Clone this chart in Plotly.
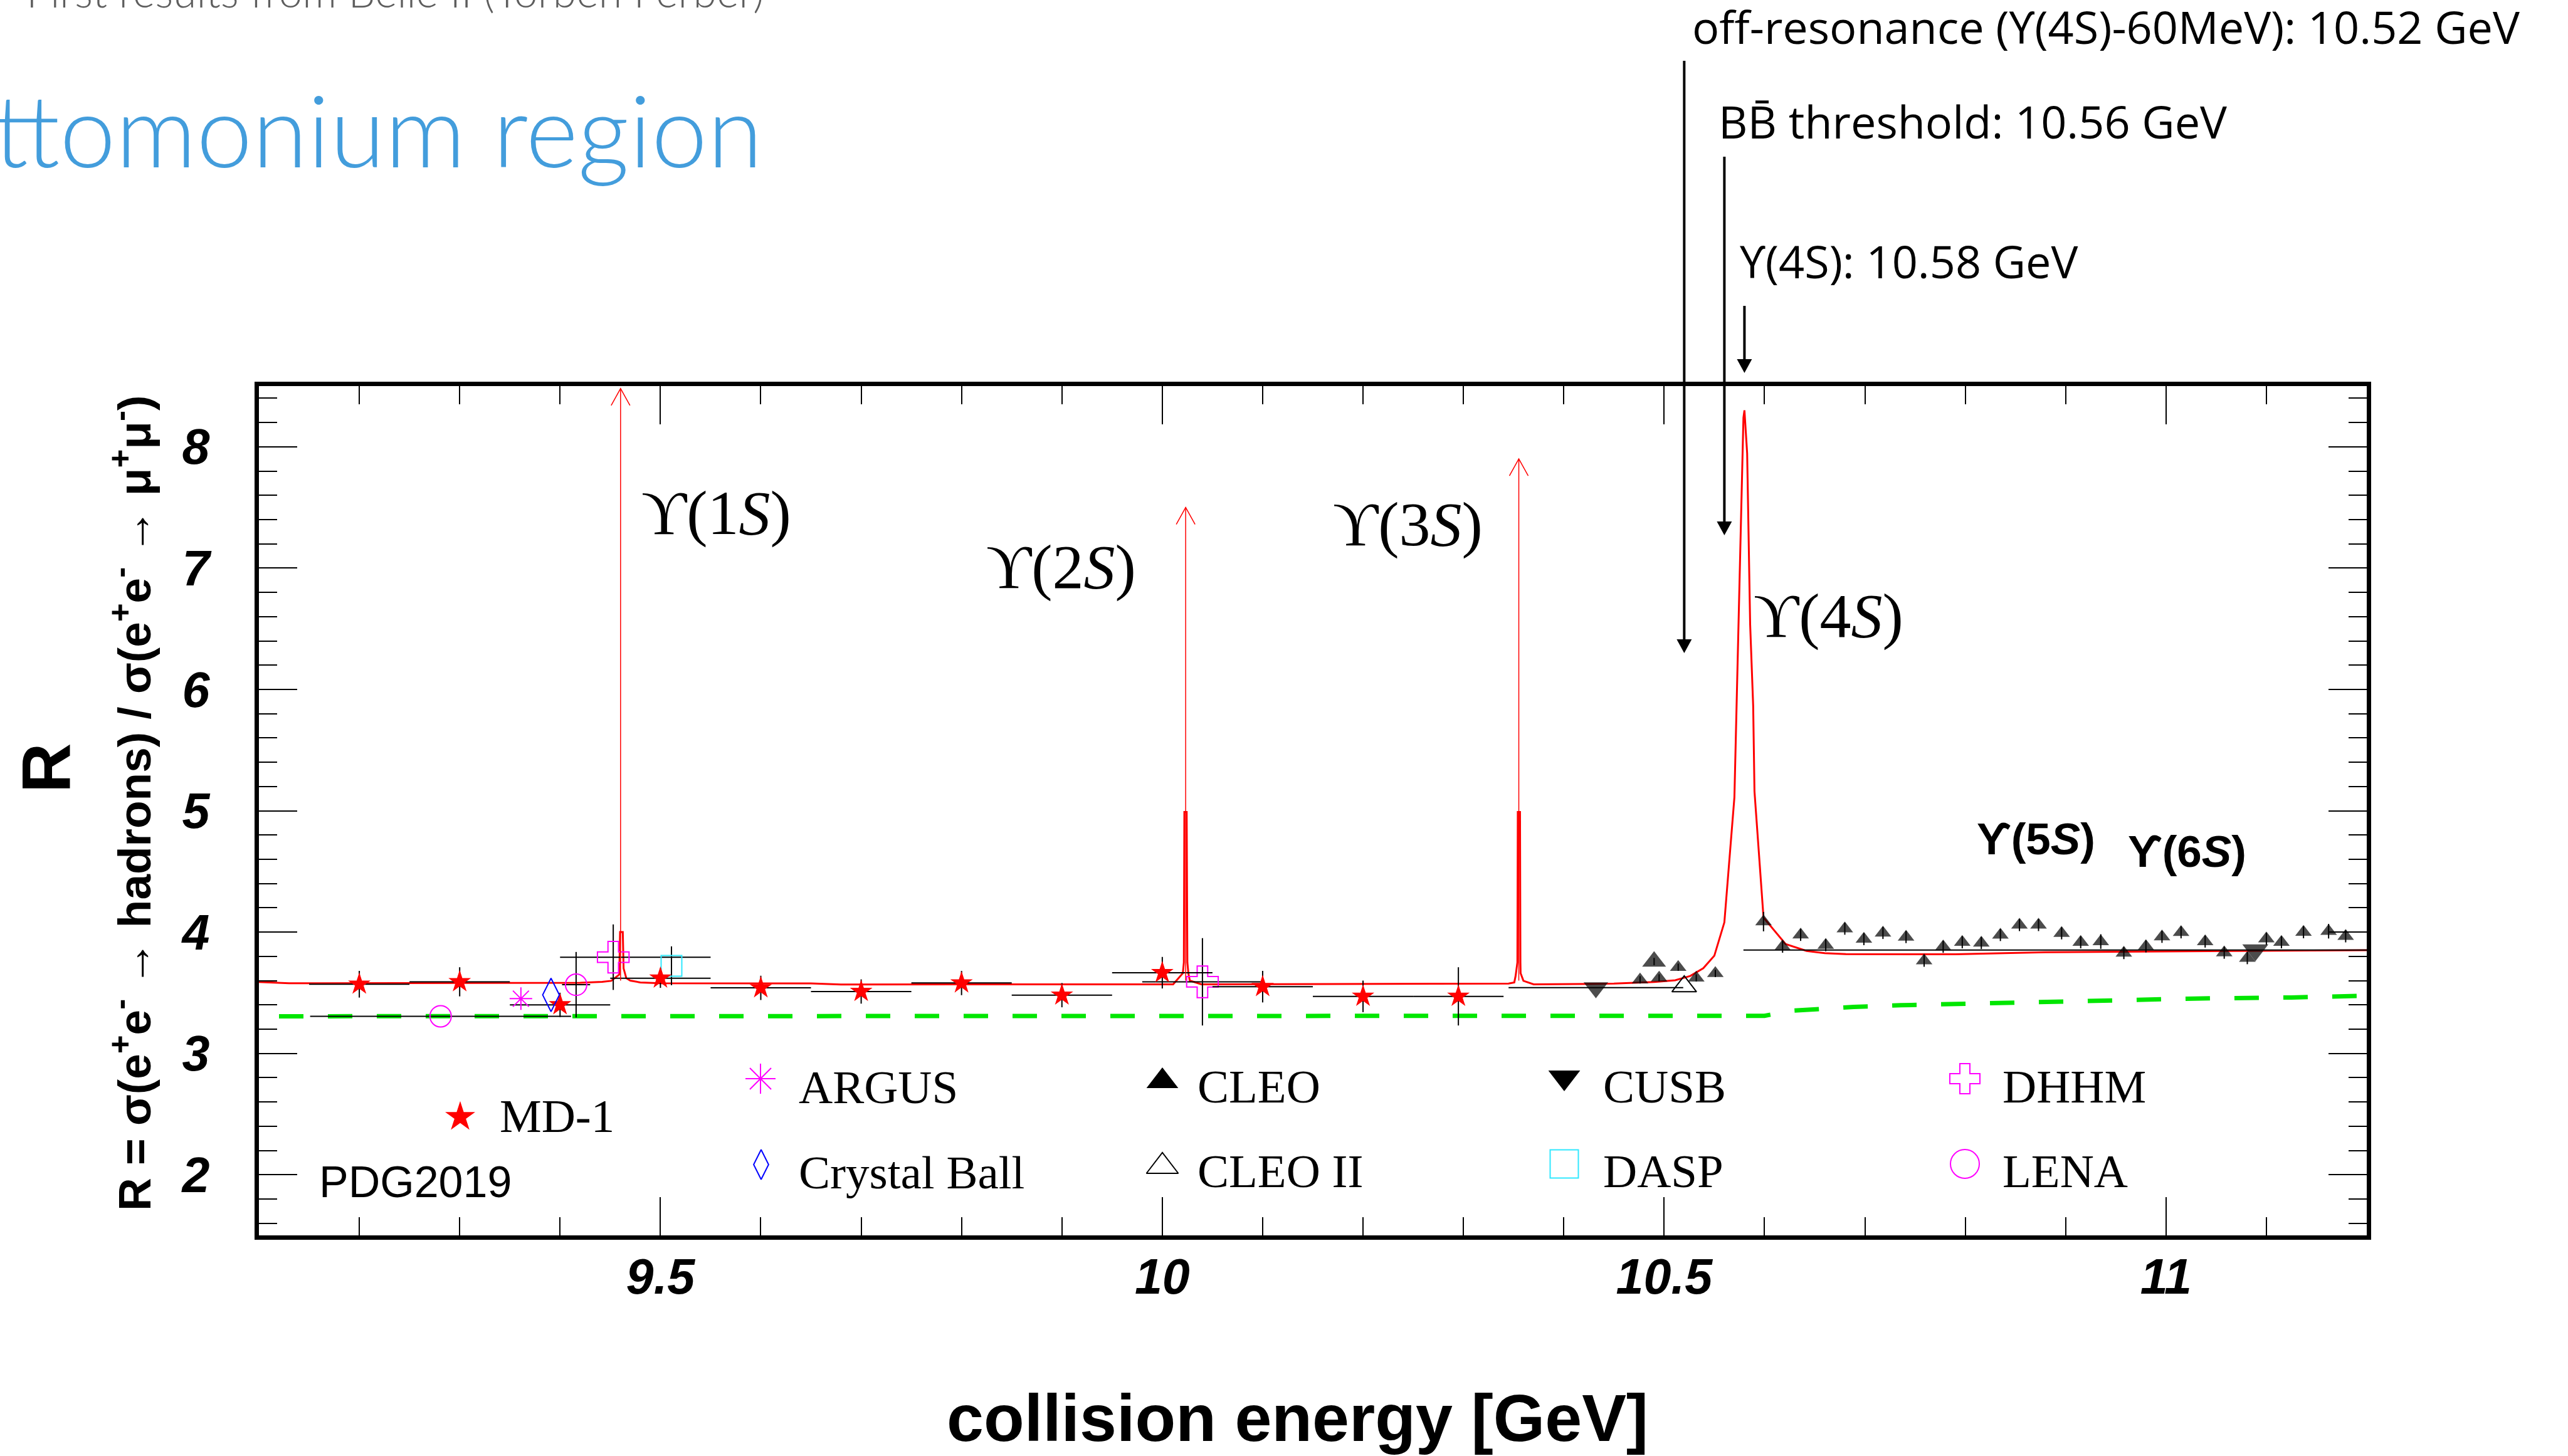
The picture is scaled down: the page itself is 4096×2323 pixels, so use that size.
import plotly.graph_objects as go

# ---------------------------------------------------------------- axis ranges
E_RANGE = [9.1, 11.2]
R_RANGE = [1.5, 8.5]

# ------------------------------------------- theory curve (red) incl. resonances
curve_E = [9.100, 9.130, 9.420, 9.442, 9.451, 9.4590, 9.4598, 9.4625, 9.4633, 9.4660, 9.4700, 9.4800, 9.5000, 9.6500, 9.6800,
           10.0000, 10.0108, 10.0205, 10.0215, 10.0220, 10.0243, 10.0250, 10.0260, 10.0274, 10.0390,
           10.3450, 10.3507, 10.3520, 10.3538, 10.3542, 10.3564, 10.3568, 10.3570, 10.3598, 10.3700,
           10.4500, 10.4690, 10.4900, 10.5110, 10.5260, 10.5390, 10.5500, 10.5600, 10.5700, 10.5790, 10.5800,
           10.5827, 10.5857, 10.5887, 10.5900, 10.5990, 10.6090, 10.6210, 10.6420, 10.6600, 10.6810, 10.7900, 10.8800, 11.2000]
curve_R = [3.588, 3.578, 3.582, 3.590, 3.598, 3.650, 4.000, 4.000, 3.700, 3.620, 3.600, 3.585, 3.578, 3.577, 3.568,
           3.569, 3.569, 3.661, 3.750, 4.990, 4.990, 3.750, 3.660, 3.600, 3.569,
           3.575, 3.585, 3.638, 3.750, 4.990, 4.990, 3.750, 3.661, 3.598, 3.569,
           3.575, 3.580, 3.589, 3.603, 3.638, 3.702, 3.805, 4.080, 5.110, 8.240, 8.300,
           7.945, 6.534, 5.865, 5.160, 4.120, 4.020, 3.901, 3.844, 3.826, 3.818, 3.817, 3.834, 3.851]

# ------------------------------------------------ continuum (green dashed)
cont_E = [9.120, 10.600, 10.628, 10.689, 10.736, 10.833, 10.931, 11.028, 11.125, 11.200]
cont_R = [3.306, 3.310, 3.352, 3.383, 3.397, 3.418, 3.439, 3.452, 3.461, 3.475]

# ------------------------------- narrow Upsilon states (off-scale peaks)
ups_labels = ["ϒ(1<i>S</i>)", "ϒ(2<i>S</i>)", "ϒ(3<i>S</i>)"]
ups_mass = [9.4603, 10.0233, 10.3552]
ups_peak_R = [8.48, 7.50, 7.90]

# ------------------------------------------------ Belle II energy markers
mark_E = [10.52, 10.56, 10.58]
mark_text = ["off-resonance (ϒ(4S)-60MeV): 10.52 GeV",
             "BB\u0304 threshold: 10.56 GeV",
             "ϒ(4S): 10.58 GeV"]

# ------------------------------------------------------------ measurements
md1_E = [9.20, 9.30, 9.40, 9.50, 9.60, 9.70, 9.80, 9.90, 10.00, 10.10, 10.20, 10.295]
md1_R = [3.57, 3.59, 3.40, 3.62, 3.54, 3.51, 3.58, 3.48, 3.665, 3.55, 3.47, 3.47]
md1_dE = [0.05, 0.05, 0.05, 0.05, 0.05, 0.05, 0.05, 0.05, 0.05, 0.05, 0.05, 0.045]
md1_dR = [0.11, 0.12, 0.10, 0.08, 0.10, 0.10, 0.10, 0.10, 0.13, 0.13, 0.13, 0.24]

argus_E = [9.361]
argus_R = [3.451]

cball_E = [9.391]
cball_R = [3.482]

lena_E = [9.281, 9.416]
lena_R = [3.306, 3.566]
lena_dE = [0.13, 0.014]
lena_dR = [0.0, 0.27]

dhhm_E = [9.453, 10.040]
dhhm_R = [3.793, 3.590]
dhhm_dE_lo = [0.053, 0.060]
dhhm_dE_hi = [0.097, 0.060]
dhhm_dR = [0.27, 0.36]

dasp_E = [9.511]
dasp_R = [3.722]
dasp_dR = [0.16]

cusb_E = [10.432, 11.089]
cusb_R = [3.542, 3.852]
cusb_dE = [0.087, 0.51]

cleo2_E = [10.520]
cleo2_R = [3.552]

cleo_E = [10.476, 10.490, 10.495, 10.514, 10.532, 10.551,
          10.599, 10.618, 10.636, 10.661, 10.680, 10.699, 10.718, 10.741, 10.759, 10.778,
          10.797, 10.816, 10.835, 10.854, 10.873, 10.896, 10.915, 10.935, 10.958, 10.980,
          10.996, 11.015, 11.039, 11.058, 11.081, 11.100, 11.115, 11.137, 11.162, 11.179]
cleo_R = [3.606, 3.757, 3.622, 3.710, 3.622, 3.659,
          4.086, 3.880, 3.977, 3.892, 4.028, 3.942, 3.993, 3.959, 3.764, 3.879,
          3.916, 3.910, 3.976, 4.058, 4.058, 3.990, 3.916, 3.922, 3.827, 3.882,
          3.961, 3.998, 3.922, 3.830, 3.785, 3.945, 3.916, 3.999, 4.007, 3.965]
cleo_dR = [0.03, 0.03, 0.03, 0.03, 0.03, 0.03,
           0.08, 0.05, 0.05, 0.05, 0.05, 0.05, 0.05, 0.05, 0.05, 0.05,
           0.05, 0.05, 0.05, 0.05, 0.05, 0.05, 0.05, 0.06, 0.05, 0.05,
           0.05, 0.05, 0.05, 0.05, 0.05, 0.05, 0.05, 0.05, 0.06, 0.05]

# --------------------------------------------------------------- geometry
W, H = 4096, 2323
ML, MR, MT, MB = 413, 321, 616, 352
PW = W - ML - MR
PH = H - MT - MB


def paper_x(px):
    return (px - ML) / PW


def paper_y(py):
    return (H - MB - py) / PH


def data_x(px):
    return E_RANGE[0] + (px - ML) / PW * (E_RANGE[1] - E_RANGE[0])


def data_y(py):
    return R_RANGE[0] + (H - MB - py) / PH * (R_RANGE[1] - R_RANGE[0])


SANS = "Liberation Sans, Arial, sans-serif"
SERIF = "Liberation Serif, DejaVu Serif, serif"
SLIDE = "Open Sans, sans-serif"
LIGHT = "Lato, sans-serif"

fig = go.Figure()


def text_at(text, x_px, base_px, size, family, color="black", k=0.35, anchor="left", **fkw):
    fig.add_annotation(text=text, xref="paper", yref="paper",
                       x=paper_x(x_px), y=paper_y(base_px - k * size),
                       xanchor=anchor, yanchor="middle", showarrow=False,
                       font=dict(family=family, size=size, color=color, **fkw))


ERR = dict(type="data", color="black", thickness=2, width=0)

# ------------------------------------------------------------- curves
fig.add_trace(go.Scatter(x=curve_E, y=curve_R, mode="lines",
                         line=dict(color="red", width=3), hoverinfo="skip"))
fig.add_trace(go.Scatter(x=cont_E, y=cont_R, mode="lines",
                         line=dict(color="rgb(0,230,0)", width=7, dash="39px,39px"),
                         hoverinfo="skip"))

# thin arrows above the narrow peaks
for m, top in zip(ups_mass, ups_peak_R):
    fig.add_shape(type="line", xref="x", yref="y", x0=m, x1=m, y0=3.6, y1=top,
                  line=dict(color="red", width=1.5))
    fig.add_shape(type="path", xref="x", yref="y", xsizemode="pixel", ysizemode="pixel",
                  xanchor=m, yanchor=top, path="M -15,-27 L 0,0 L 15,-27",
                  line=dict(color="red", width=1.5))

# ------------------------------------------------------------ data points
fig.add_trace(go.Scatter(x=lena_E, y=lena_R, mode="markers",
                         error_x=dict(array=lena_dE, **ERR), error_y=dict(array=lena_dR, **ERR),
                         marker=dict(symbol="circle-open", size=34, color="magenta", line=dict(width=2))))
fig.add_trace(go.Scatter(x=dhhm_E, y=dhhm_R, mode="markers",
                         error_x=dict(array=dhhm_dE_hi, arrayminus=dhhm_dE_lo, symmetric=False, **ERR),
                         error_y=dict(array=dhhm_dR, **ERR),
                         marker=dict(symbol="cross-open", size=42, color="magenta", line=dict(width=2))))
fig.add_trace(go.Scatter(x=dasp_E, y=dasp_R, mode="markers",
                         error_y=dict(array=dasp_dR, **ERR),
                         marker=dict(symbol="square-open", size=33, color="#30e8ff", line=dict(width=2))))
fig.add_trace(go.Scatter(x=md1_E, y=md1_R, mode="markers",
                         error_x=dict(array=md1_dE, **ERR), error_y=dict(array=md1_dR, **ERR),
                         marker=dict(symbol="star", size=27, color="red", line=dict(width=0))))
fig.add_trace(go.Scatter(x=argus_E, y=argus_R, mode="markers",
                         marker=dict(symbol="asterisk-open", size=30, color="magenta", line=dict(width=2))))
fig.add_trace(go.Scatter(x=cball_E, y=cball_R, mode="markers",
                         marker=dict(symbol="diamond-tall-open", size=38, color="blue", line=dict(width=2))))
fig.add_trace(go.Scatter(x=cusb_E, y=cusb_R, mode="markers",
                         error_x=dict(array=cusb_dE, **ERR),
                         marker=dict(symbol="triangle-down", size=[34, 36], color="black", line=dict(width=0))))
cleo_size = [33 if i == 1 else 23 for i in range(len(cleo_E))]
fig.add_trace(go.Scatter(x=cleo_E, y=cleo_R, mode="markers",
                         error_y=dict(array=cleo_dR, **ERR),
                         marker=dict(symbol="triangle-up", size=cleo_size, color="black", line=dict(width=0))))
fig.add_trace(go.Scatter(x=cleo2_E, y=cleo2_R, mode="markers",
                         marker=dict(symbol="triangle-up-open", size=34, color="black", line=dict(width=2))))

# ------------------------------------------------------------ legend box
legend_rows = [
    # name, symbol, colour, size, key (x, y) px, text left px, text baseline px
    ("MD-1", "star", "red", 36, (734, 1782), 795, 1806),
    ("ARGUS", "asterisk-open", "magenta", 40, (1213, 1721), 1272, 1760),
    ("Crystal Ball", "diamond-tall-open", "blue", 34, (1214, 1858), 1272, 1896),
    ("CLEO", "triangle-up", "black", 44, (1854, 1725), 1908, 1759),
    ("CLEO II", "triangle-up-open", "black", 44, (1854, 1861), 1908, 1894),
    ("CUSB", "triangle-down", "black", 44, (2495, 1719), 2555, 1759),
    ("DASP", "square-open", "#30e8ff", 45, (2495, 1857), 2555, 1894),
    ("DHHM", "cross-open", "magenta", 40, (3134, 1721), 3192, 1759),
    ("LENA", "circle-open", "magenta", 46, (3134, 1857), 3192, 1894),
]
for name, sym, col, size, (kx, ky), tx, tb in legend_rows:
    fig.add_trace(go.Scatter(x=[data_x(kx)], y=[data_y(ky)], mode="markers", hoverinfo="skip",
                             marker=dict(symbol=sym, size=size, color=col,
                                         line=dict(width=2 if "open" in sym else 0))))
    text_at(name, tx, tb, 75, SERIF, k=0.3375)

text_at("PDG2019", 507, 1910, 70, SANS, k=0.3465)

# ------------------------------------------------------- resonance labels
for lab, (lx, lb) in zip(ups_labels, [(1021, 852), (1571, 938), (2124, 870)]):
    text_at(lab, lx, lb, 100, SERIF, k=0.3375)
text_at("ϒ(4<i>S</i>)", 2795, 1016, 100, SERIF, k=0.3375)
text_at("ϒ(5<i>S</i>)", 3151, 1363, 71, SANS, k=0.3465, weight="bold")
text_at("ϒ(6<i>S</i>)", 3392, 1383, 71, SANS, k=0.3465, weight="bold")

# ------------------------------------------- Belle II energy arrows + text
for E, txt, (tx, tb), (tail, tip) in zip(mark_E, mark_text,
                                         [(2697, 70), (2739, 221), (2773, 444)],
                                         [(97, 1042), (250, 854), (488, 595)]):
    fig.add_shape(type="line", xref="x", yref="paper", x0=E, x1=E,
                  y0=paper_y(tail), y1=paper_y(tip - 12), line=dict(color="black", width=4))
    fig.add_shape(type="path", xref="x", yref="paper", xsizemode="pixel", ysizemode="pixel",
                  xanchor=E, yanchor=paper_y(tip), path="M -12,22 L 12,22 L 0,0 Z",
                  fillcolor="black", line=dict(width=0))
    text_at(txt, tx, tb, 72, SLIDE, k=0.388)

# ------------------------------------------------------------ slide text
text_at("First results from Belle II (Torben Ferber)", 40, 12, 68, LIGHT,
        color="#5e5e5e", k=0.387, weight=300)
text_at("ttomonium region", -12, 267, 160, LIGHT, color="#439ddc", k=0.387, weight=300)

# ------------------------------------------------------------ axis titles
fig.add_annotation(text="collision energy [GeV]", xref="paper", yref="paper",
                   x=paper_x(2069), y=paper_y(2299 - 0.3465 * 106), xanchor="center",
                   yanchor="middle", showarrow=False,
                   font=dict(family=SANS, size=106, color="black", weight="bold"))
fig.add_annotation(text="R", xref="paper", yref="paper", textangle=-90,
                   x=paper_x(73), y=paper_y(1226), xanchor="center", yanchor="middle",
                   showarrow=False, font=dict(family=SANS, size=110, color="black", weight="bold"))
fig.add_annotation(text="R = σ(e<sup>+</sup>e<sup>-</sup> → hadrons) / σ(e<sup>+</sup>e<sup>-</sup> → μ<sup>+</sup>μ<sup>-</sup>)",
                   xref="paper", yref="paper", textangle=-90,
                   x=paper_x(209), y=paper_y(1282), xanchor="center", yanchor="middle",
                   showarrow=False, font=dict(family=SANS, size=73, color="black", weight="bold"))

# ------------------------------------------------------------------ axes
axis_common = dict(showline=True, linewidth=6.5, linecolor="black", mirror="allticks",
                   ticks="inside", tickwidth=2, tickcolor="black", showgrid=False, zeroline=False,
                   tickfont=dict(family=SANS, size=79, color="black", weight="bold", style="italic"))
fig.update_xaxes(range=E_RANGE, tickmode="linear", tick0=0, dtick=0.5, ticklen=61,
                 minor=dict(ticks="inside", tick0=0, dtick=0.1, ticklen=29, tickwidth=2,
                            tickcolor="black", showgrid=False),
                 ticklabelstandoff=-9, **axis_common)
fig.update_yaxes(range=R_RANGE, tickmode="linear", tick0=0, dtick=1, ticklen=61,
                 minor=dict(ticks="inside", tick0=0, dtick=0.2, ticklen=29, tickwidth=2,
                            tickcolor="black", showgrid=False),
                 ticklabelstandoff=56, **axis_common)

fig.update_layout(width=W, height=H, margin=dict(l=ML, r=MR, t=MT, b=MB, autoexpand=False),
                  paper_bgcolor="white", plot_bgcolor="white", showlegend=False)

fig.write_html("out.html")
